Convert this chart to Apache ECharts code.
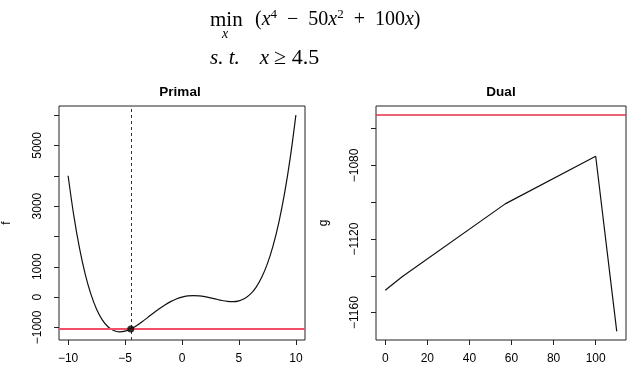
<!DOCTYPE html>
<html><head><meta charset="utf-8">
<script src="https://cdn.jsdelivr.net/npm/echarts@6/dist/echarts.min.js"></script>
<style>html,body{margin:0;padding:0;background:#fff}#c{width:637px;height:379px}</style>
</head><body><div id="c"></div>
<script>
// ---- data ----
const primalX = [-10,-9.5,-9,-8.5,-8,-7.5,-7,-6.5,-6,-5.5,-5,-4.5,-4,-3.5,-3,-2.5,-2,-1.5,-1,-0.5,0,0.5,1,1.5,2,2.5,3,3.5,4,4.5,5,5.5,6,6.5,7,7.5,8,8.5,9,9.5,10];
const primalF = [4000,2682.6,1611,757.6,96,-398.4,-749,-977.4,-1104,-1147.4,-1125,-1052.4,-944,-812.4,-669,-523.4,-384,-257.4,-149,-62.4,0,37.6,51,42.6,16,-23.4,-69,-112.4,-144,-152.4,-125,-47.4,96,322.6,651,1101.6,1696,2457.6,3411,4582.6,6000];
const optX = [-4.5];
const optF = [-1052.4];
const fStar = -1052.4;
const dualLambda = [0, 8, 57, 100, 110];
const dualG = [-1147.9, -1140.5, -1100.9, -1075, -1170.2];
// ticks / labels
const primalXTicks = [-10,-5,0,5,10];
const primalYTicks = [-1000,0,1000,2000,3000,4000,5000,6000];
const primalYLabels = [-1000,0,1000,3000,5000];
const dualXTicks = [0,20,40,60,80,100];
const dualYTicks = [-1160,-1140,-1120,-1100,-1080,-1060];
const dualYLabels = [-1160,-1120,-1080];

const minus = v => String(v).replace('-', '\u2212');
const sans = 'Liberation Sans, Arial, Helvetica, sans-serif';
const serif = 'Liberation Serif, Times New Roman, serif';
const ink = '#222';

function xAxisCfg(gi, min, max, ticks) {
  return {
    type: 'value', gridIndex: gi, min: min, max: max,
    axisLine: { show: false, onZero: false },
    axisTick: { show: true, inside: false, length: 5, customValues: ticks, lineStyle: { color: ink, width: 1 } },
    axisLabel: { customValues: ticks, margin: 13, fontSize: 12, color: '#000', fontFamily: sans, formatter: minus },
    splitLine: { show: false }
  };
}
function yAxisCfg(gi, min, max, ticks, labels, name) {
  return {
    type: 'value', gridIndex: gi, min: min, max: max,
    name: name, nameLocation: 'middle', nameGap: 46, nameRotate: 90,
    nameTextStyle: { fontSize: 12, color: '#000', fontFamily: sans },
    axisLine: { show: false, onZero: false },
    axisTick: { show: true, inside: false, length: 5, customValues: ticks, lineStyle: { color: ink, width: 1 } },
    axisLabel: { customValues: labels, rotate: 90, margin: 15, fontSize: 12, color: '#000', fontFamily: sans, formatter: minus },
    splitLine: { show: false }
  };
}
const R = { fontSize: 20, fontFamily: serif, fontWeight: 'normal', color: '#000', lineHeight: 24 };
const I = Object.assign({}, R, { fontStyle: 'italic' });
const S = { fontSize: 13, fontFamily: serif, fontWeight: 'normal', color: '#000', verticalAlign: 'top', lineHeight: 14 };
const R2 = Object.assign({}, R, { fontSize: 22 });
const I2 = Object.assign({}, I, { fontSize: 21 });

const chart = echarts.init(document.getElementById('c'), null, { renderer: 'canvas' });
chart.setOption({
  animation: false,
  backgroundColor: '#fff',
  title: [
    { text: 'Primal', left: 180, textAlign: 'center', top: 85, padding: 0,
      textStyle: { fontSize: 13.5, fontWeight: 'bold', fontFamily: sans, color: '#000' } },
    { text: 'Dual', left: 501, textAlign: 'center', top: 85, padding: 0,
      textStyle: { fontSize: 13.5, fontWeight: 'bold', fontFamily: sans, color: '#000' } },
    { text: '{r|min}', left: 210, top: 8, padding: 0,
      textStyle: { fontWeight: 'normal', rich: { r: Object.assign({}, R, { fontSize: 21 }) } } },
    { text: '{i|x}', left: 222, top: 27, padding: 0,
      textStyle: { fontWeight: 'normal', rich: { i: Object.assign({}, I, { fontSize: 14, lineHeight: 14 }) } } },
    { text: '{r|(}{i|x}{s|4}{r|  \u2212  50}{i|x}{s|2}{r|  +  100}{i|x}{r|)}', left: 255, top: 8, padding: 0,
      textStyle: { fontWeight: 'normal', rich: { r: R, i: I, s: S } } },
    { text: '{i|s. t.}    {i|x} {r|\u2265 4.5}', left: 210, top: 46, padding: 0,
      textStyle: { fontWeight: 'normal', rich: { r: R2, i: I2 } } }
  ],
  grid: [
    { left: 55, top: 106, width: 250, height: 234, show: true, borderColor: ink, borderWidth: 1, containLabel: false },
    { left: 376, top: 106, width: 250, height: 234, show: true, borderColor: ink, borderWidth: 1, containLabel: false }
  ],
  xAxis: [ xAxisCfg(0, -10.8, 10.8, primalXTicks), xAxisCfg(1, -4.4, 114.4, dualXTicks) ],
  yAxis: [ yAxisCfg(0, -1415, 6300, primalYTicks, primalYLabels, 'f'),
           yAxisCfg(1, -1174.9, -1047.7, dualYTicks, dualYLabels, 'g') ],
  series: [
    { type: 'line', xAxisIndex: 0, yAxisIndex: 0, smooth: 0.3, showSymbol: false, silent: true,
      data: primalX.map((x, i) => [x, primalF[i]]),
      lineStyle: { color: '#111', width: 1.2 },
      markLine: { silent: true, symbol: 'none', label: { show: false }, animation: false,
        data: [
          { xAxis: optX[0], lineStyle: { color: '#333', width: 1, type: [3, 3] } },
          { yAxis: fStar, lineStyle: { color: '#f25068', width: 2, type: 'solid' } }
        ] } },
    { type: 'scatter', xAxisIndex: 0, yAxisIndex: 0, silent: true, symbolSize: 7, z: 5,
      data: optX.map((x, i) => [x, optF[i]]), itemStyle: { color: '#000' } },
    { type: 'line', xAxisIndex: 1, yAxisIndex: 1, showSymbol: false, silent: true,
      data: dualLambda.map((x, i) => [x, dualG[i]]),
      lineStyle: { color: '#111', width: 1.2 },
      markLine: { silent: true, symbol: 'none', label: { show: false }, animation: false,
        data: [ { yAxis: fStar, lineStyle: { color: '#e8304a', width: 1.5, type: 'solid' } } ] } }
  ]
});
</script></body></html>
